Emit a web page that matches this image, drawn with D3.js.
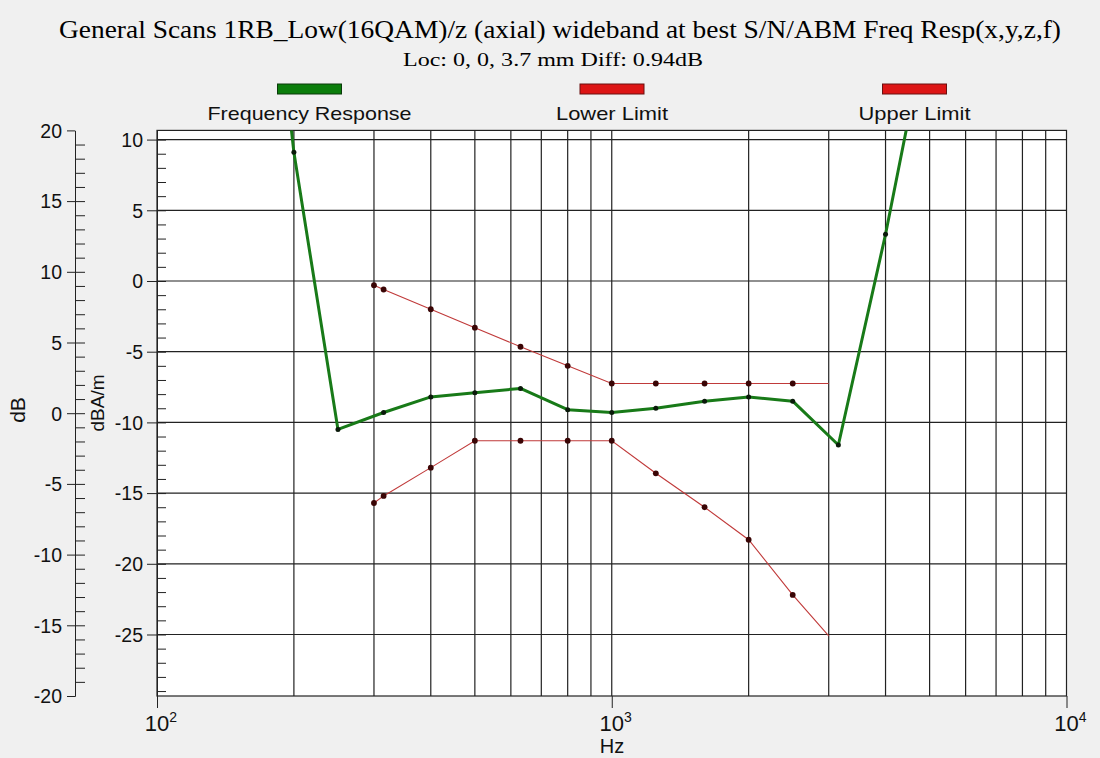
<!DOCTYPE html>
<html>
<head>
<meta charset="UTF-8">
<style>
  body { margin: 0; background: #f0f0f0; font-family: "Liberation Sans", Arial, sans-serif; }
  svg { display: block; }
  .tick text { font-family: "Liberation Sans", Arial, sans-serif; font-size: 19.5px; fill: #111; }
  .tick line, .domain { stroke: #222; }
</style>
</head>
<body>
<svg width="1100" height="758"></svg>
<script src="https://d3js.org/d3.v7.min.js"></script>
<script>
  let titleText = "General Scans 1RB_Low(16QAM)/z (axial) wideband at best S/N/ABM Freq Resp(x,y,z,f)";
  let subTitle = "Loc: 0, 0, 3.7 mm Diff: 0.94dB";
  let legendNames = ["Frequency Response", "Lower Limit", "Upper Limit"];
  let legendColors = ["#0b7d0b", "#dd1515", "#dd1515"];

  // frequency response, dBA/m
  let respFreq = [160, 200, 250, 315, 400, 500, 630, 800, 1000, 1250, 1600, 2000, 2500, 3150, 4000, 5000];
  let respVal  = [37, 9.1, -10.5, -9.3, -8.2, -7.9, -7.6, -9.1, -9.3, -9.0, -8.5, -8.2, -8.5, -11.6, 3.3, 19];

  // limit curves
  let limFreq  = [300, 315, 400, 500, 630, 800, 1000, 1250, 1600, 2000, 2500, 3000];
  let lowerVal = [-15.7, -15.2, -13.2, -11.3, -11.3, -11.3, -11.3, -13.6, -16.0, -18.3, -22.2, -25.1];
  let upperVal = [-0.3, -0.6, -2.0, -3.3, -4.65, -6.0, -7.25, -7.25, -7.25, -7.25, -7.25, -7.25];

  let dbTicks   = [20, 15, 10, 5, 0, -5, -10, -15, -20];
  let dbamTicks = [10, 5, 0, -5, -10, -15, -20, -25];
  let gridFreq  = [200, 300, 400, 500, 600, 700, 800, 900, 1000, 2000, 3000, 4000, 5000, 6000, 7000, 8000, 9000];
  let decades   = [100, 1000, 10000];
  let decadeExp = ["2", "3", "4"];

  let svg = d3.select("svg");
  let pLeft = 157, pRight = 1066.5, pTop = 130.4, pBottom = 696;

  let x = d3.scaleLog().domain([100, 10000]).range([pLeft, pRight]);
  let yR = d3.scaleLinear().domain([-29.35, 10.65]).range([pBottom, pTop]);
  let yL = d3.scaleLinear().domain([-20, 20]).range([pBottom, pTop]);
  let plainFmt = d => String(d);

  // title
  svg.append("text")
      .attr("x", 560).attr("y", 38)
      .attr("text-anchor", "middle")
      .attr("textLength", 1002).attr("lengthAdjust", "spacingAndGlyphs")
      .style("font-family", "'Liberation Serif', 'Times New Roman', serif")
      .style("font-size", "25px")
      .text(titleText);
  svg.append("text")
      .attr("x", 553).attr("y", 66)
      .attr("text-anchor", "middle")
      .attr("textLength", 300).attr("lengthAdjust", "spacingAndGlyphs")
      .style("font-family", "'Liberation Serif', 'Times New Roman', serif")
      .style("font-size", "18px")
      .text(subTitle);

  // legend
  let legendX = [309.5, 612, 914.5];
  let legendW = [204, 112, 112];
  legendNames.forEach((name, i) => {
    svg.append("rect")
        .attr("x", legendX[i] - 32).attr("y", 84)
        .attr("width", 64).attr("height", 10)
        .attr("fill", legendColors[i])
        .attr("stroke", i == 0 ? "#0a3a0a" : "#6a1010").attr("stroke-width", 1);
    svg.append("text")
        .attr("x", legendX[i]).attr("y", 120)
        .attr("text-anchor", "middle")
        .attr("textLength", legendW[i]).attr("lengthAdjust", "spacingAndGlyphs")
        .style("font-size", "19px").style("fill", "#111")
        .text(name);
  });

  // plot area
  svg.append("rect")
      .attr("x", pLeft).attr("y", pTop)
      .attr("width", pRight - pLeft).attr("height", pBottom - pTop)
      .attr("fill", "white");

  svg.append("g").selectAll("line")
      .data(gridFreq)
      .enter().append("line")
      .attr("x1", d => x(d)).attr("x2", d => x(d))
      .attr("y1", pTop).attr("y2", pBottom)
      .attr("stroke", "#222").attr("stroke-width", 1.2);

  svg.append("g").selectAll("line")
      .data(dbamTicks)
      .enter().append("line")
      .attr("x1", pLeft).attr("x2", pRight)
      .attr("y1", d => yR(d)).attr("y2", d => yR(d))
      .attr("stroke", "#222").attr("stroke-width", 1.2);

  svg.append("rect")
      .attr("x", pLeft).attr("y", pTop)
      .attr("width", pRight - pLeft).attr("height", pBottom - pTop)
      .attr("fill", "none").attr("stroke", "#222").attr("stroke-width", 1.2);

  // left dB axis
  let dbAxis = svg.append("g").attr("transform", "translate(75,0)");
  dbAxis.call(d3.axisLeft(yL).tickValues(dbTicks).tickSize(8).tickSizeOuter(0).tickPadding(5).tickFormat(plainFmt));
  dbAxis.append("g").call(d3.axisRight(yL).tickValues(d3.range(-19, 20)).tickSize(10).tickSizeOuter(0).tickFormat(""));

  // inner dBA/m axis
  let dbamAxis = svg.append("g").attr("transform", `translate(${pLeft},0)`);
  dbamAxis.call(d3.axisLeft(yR).tickValues(dbamTicks).tickSize(10).tickSizeOuter(0).tickPadding(4).tickFormat(plainFmt));
  dbamAxis.append("g").call(d3.axisRight(yR).tickValues(d3.range(-29, 11)).tickSize(9).tickSizeOuter(0).tickFormat(""));
  svg.selectAll(".tick text").attr("dy", "0.35em");

  // x axis
  let xAxis = svg.append("g").attr("transform", `translate(0,${pBottom})`);
  xAxis.call(d3.axisBottom(x).tickValues(decades).tickSize(12).tickSizeOuter(0).tickFormat(""));
  xAxis.select(".domain").remove();

  let xLab = svg.append("g").selectAll("text")
      .data(decades)
      .enter().append("text")
      .attr("x", d => x(d) + 4).attr("y", 731)
      .attr("text-anchor", "middle")
      .style("font-size", "22px").style("fill", "#111");
  xLab.append("tspan").text("10");
  xLab.append("tspan").attr("dy", -9).style("font-size", "14px").text((d, i) => decadeExp[i]);

  svg.append("text")
      .attr("x", 612).attr("y", 753)
      .attr("text-anchor", "middle")
      .style("font-size", "20px").style("fill", "#111")
      .text("Hz");
  svg.append("text")
      .attr("transform", "translate(25,410) rotate(-90)")
      .attr("text-anchor", "middle")
      .style("font-size", "21px").style("fill", "#111")
      .text("dB");
  svg.append("text")
      .attr("transform", "translate(104,403) rotate(-90)")
      .attr("text-anchor", "middle")
      .style("font-size", "19px").style("fill", "#111")
      .text("dBA/m");

  // data
  svg.append("clipPath").attr("id", "plotclip")
    .append("rect")
      .attr("x", pLeft).attr("y", pTop)
      .attr("width", pRight - pLeft).attr("height", pBottom - pTop);

  let plot = svg.append("g").attr("clip-path", "url(#plotclip)");
  let line = d3.line().x(d => x(d.f)).y(d => yR(d.v));

  let resp = respFreq.map((f, i) => ({f: f, v: respVal[i]}));
  let lower = limFreq.map((f, i) => ({f: f, v: lowerVal[i]}));
  let upper = limFreq.map((f, i) => ({f: f, v: upperVal[i]}));

  [lower, upper].forEach(pts => {
    plot.append("path")
        .datum(pts)
        .attr("d", line)
        .attr("fill", "none")
        .attr("stroke", "#c03a3a").attr("stroke-width", 1.1);
    plot.selectAll(null)
        .data(pts.slice(0, -1))
        .enter().append("circle")
        .attr("cx", d => x(d.f)).attr("cy", d => yR(d.v))
        .attr("r", 2.9)
        .attr("fill", "#3a0505");
  });

  plot.append("path")
      .datum(resp)
      .attr("d", line)
      .attr("fill", "none")
      .attr("stroke", "#187a18").attr("stroke-width", 3)
      .attr("stroke-linejoin", "round");
  plot.selectAll(null)
      .data(resp)
      .enter().append("circle")
      .attr("cx", d => x(d.f)).attr("cy", d => yR(d.v))
      .attr("r", 2.5)
      .attr("fill", "#0a1a0a");
</script>
</body>
</html>
